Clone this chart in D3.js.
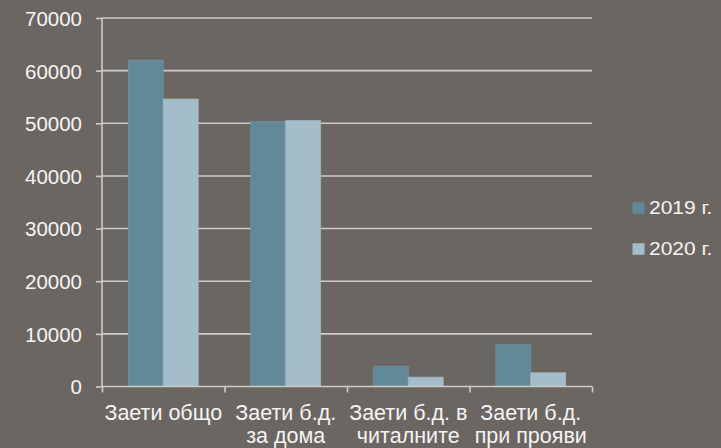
<!DOCTYPE html>
<html><head><meta charset="utf-8">
<script src="https://cdn.jsdelivr.net/npm/d3@7/dist/d3.min.js"></script>
<style>
html,body{margin:0;padding:0;background:#6c6662;}
svg{display:block;font-family:"Liberation Sans",Arial,sans-serif;}
</style></head>
<body><svg id="c" width="721" height="448"></svg>
<script>
const categories = [["Заети общо"], ["Заети б.д.", "за дома"], ["Заети б.д. в", "читалните"], ["Заети б.д.", "при прояви"]];
const seriesNames = ["2019 г.", "2020 г."];
const values2019 = [62000, 50300, 3850, 7950];
const values2020 = [54600, 50500, 1770, 2600];
const yTicks = [0, 10000, 20000, 30000, 40000, 50000, 60000, 70000];
const colors = ["#618997", "#a3bec9"];

const svg = d3.select("#c");
const m = {l: 102, r: 592, t: 18, b: 386.5};
const x = d3.scaleBand().domain(d3.range(categories.length)).range([m.l, m.r]).padding(0);
const y = d3.scaleLinear().domain([0, 70000]).range([m.b, m.t]);
const groupW = x.bandwidth() * 0.57;
const xs = d3.scaleBand().domain([0, 1]).range([0, groupW]).padding(0);
const lineCol = "#cdcbc9";
const textCol = "#f4f4f4";

// gridlines
svg.append("g").selectAll("line").data(yTicks.filter(d => d > 0)).join("line")
  .attr("x1", m.l).attr("x2", m.r).attr("y1", d => y(d)).attr("y2", d => y(d))
  .attr("stroke", lineCol).attr("stroke-width", 1.6);

// bars
const series = [values2019, values2020];
series.forEach((vals, si) => {
  svg.append("g").selectAll("rect").data(vals).join("rect")
    .attr("x", (d, i) => x(i) + (x.bandwidth() - groupW) / 2 + xs(si))
    .attr("y", d => y(d))
    .attr("width", xs.bandwidth())
    .attr("height", d => y(0) - y(d))
    .attr("fill", colors[si])
    .attr("stroke", si === 0 ? "#6f939f" : "#9fb9c3").attr("stroke-width", 0.8);
});

// y axis
const yAxis = d3.axisLeft(y).tickValues(yTicks).tickSize(6).tickPadding(14).tickFormat(d3.format("d"));
const ga = svg.append("g").attr("transform", `translate(${m.l},0)`).call(yAxis);
ga.attr("font-family", null).attr("font-size", null);
ga.select(".domain").attr("stroke", lineCol).attr("stroke-width", 1.6).attr("d", `M0,${m.t}V${m.b}`);
ga.selectAll(".tick line").attr("stroke", lineCol).attr("stroke-width", 1.6);
ga.selectAll(".tick text").attr("fill", textCol).attr("font-size", 20.5).attr("dy", "0.36em");

// x axis
const xb = d3.scaleLinear().domain([0, categories.length]).range([m.l, m.r]);
const gx = svg.append("g").attr("transform", `translate(0,${m.b})`)
  .call(d3.axisBottom(xb).tickValues(d3.range(categories.length + 1)).tickSize(6).tickFormat(""));
gx.select(".domain").attr("stroke", lineCol).attr("stroke-width", 1.6).attr("d", `M${m.l},0H${m.r}`);
gx.selectAll(".tick line").attr("stroke", lineCol).attr("stroke-width", 1.6);

// category labels
const lab = svg.append("g").selectAll("text").data(categories).join("text")
  .attr("x", (d, i) => x(i) + x.bandwidth() / 2).attr("y", 420)
  .attr("text-anchor", "middle").attr("fill", textCol).attr("font-size", 21.5);
lab.selectAll("tspan").data(d => d).join("tspan")
  .attr("x", function() { return d3.select(this.parentNode).attr("x"); })
  .attr("dy", (d, i) => i === 0 ? 0 : 23).text(d => d);

// legend
const lg = svg.append("g").selectAll("g").data(seriesNames).join("g")
  .attr("transform", (d, i) => `translate(632.5,${202.3 + i * 41})`);
lg.append("rect").attr("width", 12).attr("height", 11.5).attr("fill", (d, i) => colors[i]);
lg.append("text").attr("transform", "translate(16.5,11.8) scale(1.2,1)")
  .attr("fill", textCol).attr("font-size", 17.5).text(d => d);
</script></body></html>
